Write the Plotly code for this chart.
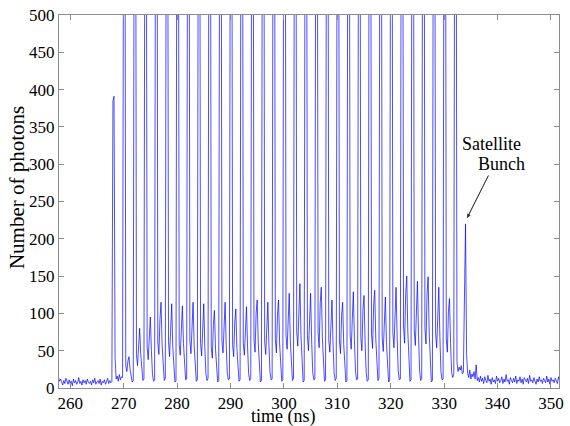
import numpy as np
import plotly.graph_objects as go

# ---- data ----
sample_start_ns = 257.8
sample_step_ns = 0.2

# background counts before the bunch train
baseline_pre = [14, 9, 12, 7, 4, 10, 6, 13, 8, 5, 11, 6, 9, 3, 12, 7, 10, 5, 8, 14,
                6, 9, 4, 11, 7, 10, 5, 12, 8, 6, 9, 4, 11, 7, 13, 5, 8, 10, 6, 12,
                4, 9, 7, 11, 5, 8, 13, 6, 10, 7]

# bunch centre times (ns)
bunch_times = [268, 270, 272, 274, 276, 278, 280, 282, 284, 286, 288, 290, 292,
               294, 296, 298, 300, 302, 304, 306, 308, 310, 312, 314, 316, 318,
               320, 322, 324, 326, 328, 330, 332, 334]

# counts in each 2 ns bunch period (10 samples, starting 0.2 ns before the bunch)
bunch_counts = [
    [9, 385, 391, 40, 12, 16, 9, 18, 11, 15],
    [14, 720, 860, 30, 22, 36, 42, 25, 12, 8],
    [10, 800, 950, 45, 30, 65, 80, 45, 20, 10],
    [12, 760, 900, 55, 38, 78, 95, 50, 18, 9],
    [11, 820, 980, 60, 45, 92, 115, 58, 22, 10],
    [13, 790, 940, 62, 42, 95, 113, 55, 20, 8],
    [10, 850, 1000, 58, 44, 90, 110, 60, 24, 11],
    [12, 800, 960, 64, 46, 96, 115, 57, 21, 9],
    [11, 780, 930, 60, 43, 94, 113, 54, 19, 10],
    [13, 830, 990, 55, 40, 85, 104, 52, 22, 8],
    [10, 810, 970, 63, 47, 98, 115, 58, 20, 11],
    [12, 790, 950, 58, 42, 88, 106, 53, 23, 9],
    [11, 840, 1000, 60, 44, 92, 109, 55, 19, 10],
    [13, 800, 960, 66, 48, 100, 118, 60, 22, 8],
    [10, 820, 980, 62, 45, 96, 115, 57, 21, 11],
    [12, 790, 940, 65, 47, 99, 118, 59, 24, 9],
    [11, 850, 1010, 70, 52, 108, 127, 64, 23, 10],
    [13, 830, 990, 76, 56, 118, 140, 70, 25, 8],
    [10, 800, 960, 70, 50, 106, 127, 63, 21, 11],
    [12, 840, 1000, 74, 54, 114, 135, 68, 24, 9],
    [11, 810, 970, 65, 48, 100, 118, 59, 20, 10],
    [13, 790, 950, 63, 46, 97, 115, 58, 22, 8],
    [10, 830, 990, 71, 52, 110, 129, 65, 23, 11],
    [12, 800, 960, 68, 50, 104, 124, 62, 21, 9],
    [11, 850, 1010, 72, 53, 111, 131, 66, 24, 10],
    [13, 820, 980, 67, 49, 102, 122, 61, 20, 8],
    [10, 790, 950, 74, 54, 114, 135, 68, 23, 11],
    [12, 840, 1000, 82, 60, 127, 150, 75, 26, 9],
    [11, 810, 970, 78, 57, 121, 143, 72, 24, 10],
    [13, 830, 990, 81, 59, 126, 149, 74, 25, 8],
    [10, 800, 960, 74, 54, 114, 135, 68, 22, 11],
    [12, 820, 980, 66, 48, 102, 120, 60, 21, 14],
    [18, 780, 940, 35, 22, 28, 24, 30, 19, 21],
    [165, 220, 45, 20, 14, 24, 12, 19, 15, 22],
]

# background counts after the train
baseline_post = [12, 31, 10, 14, 8, 16, 9, 13, 6, 15, 10, 7, 17, 9, 12, 5, 14, 8, 11, 6,
                 16, 9, 13, 7, 10, 15, 6, 12, 8, 18, 9, 11, 5, 14, 10, 7, 13, 8, 16, 6,
                 11, 9, 15, 7, 12, 5, 14, 10, 8, 13, 6, 17, 9, 11, 7, 14, 10, 5, 12, 8,
                 15, 9, 11, 6, 13, 10, 7, 16, 8, 12, 5, 14, 9, 11, 7, 13, 10, 6, 15, 9]

x_ticks = [260, 270, 280, 290, 300, 310, 320, 330, 340, 350]
y_ticks = [0, 50, 100, 150, 200, 250, 300, 350, 400, 450, 500]

# ---- assemble the sampled trace ----
counts = list(baseline_pre)
for row in bunch_counts:
    counts.extend(row)
counts.extend(baseline_post)
time_ns = sample_start_ns + sample_step_ns * np.arange(len(counts))

FONT = "Liberation Serif"
AX = "#8c8c8c"

fig = go.Figure()
fig.add_trace(go.Scatter(x=time_ns, y=counts, mode="lines",
                         line=dict(color="#0000ff", width=0.7),
                         showlegend=False, hoverinfo="skip"))

axis_common = dict(showline=True, linecolor=AX, linewidth=1, mirror="ticks",
                   ticks="inside", ticklen=5, tickcolor=AX, tickwidth=1,
                   showgrid=False, zeroline=False,
                   tickfont=dict(family=FONT, size=17, color="black"))

fig.update_xaxes(range=[257.9, 351.5], tickvals=x_ticks, **axis_common)
fig.update_yaxes(range=[0, 500], tickvals=y_ticks, **axis_common)

fig.add_annotation(text="time (ns)", xref="x", yref="paper", x=300, y=0,
                   yshift=-28, showarrow=False, yanchor="middle",
                   font=dict(family=FONT, size=18, color="black"))
fig.add_annotation(text="Number of photons", xref="paper", yref="y", x=0, y=268,
                   xshift=-42, showarrow=False, textangle=-90, xanchor="center",
                   yanchor="middle", font=dict(family=FONT, size=21, color="black"))

fig.add_annotation(text="Satellite", x=338.8, y=327, xref="x", yref="y",
                   showarrow=False, font=dict(family=FONT, size=18, color="black"))
fig.add_annotation(text="Bunch", x=340.7, y=300, xref="x", yref="y",
                   showarrow=False, font=dict(family=FONT, size=18, color="black"))
# arrow shaft and head pointing at the satellite bunch
fig.add_shape(type="line", xref="x", yref="y", x0=338.3, y0=285, x1=334.3, y1=228,
              line=dict(color="#333", width=0.8))
fig.add_annotation(text="", x=334.3, y=228, ax=338.3, ay=285, xref="x", yref="y",
                   axref="x", ayref="y", showarrow=True, arrowhead=2,
                   arrowsize=1, arrowwidth=0.8, arrowcolor="#333",
                   font=dict(size=1), borderpad=0, standoff=0, startstandoff=0)

fig.update_layout(width=570, height=426, margin=dict(l=59, r=6, t=14, b=38),
                  paper_bgcolor="white", plot_bgcolor="white")

fig.write_html("out.html", config={"displayModeBar": False},
               post_script="document.body.style.margin='0px';document.body.style.padding='0px';")
